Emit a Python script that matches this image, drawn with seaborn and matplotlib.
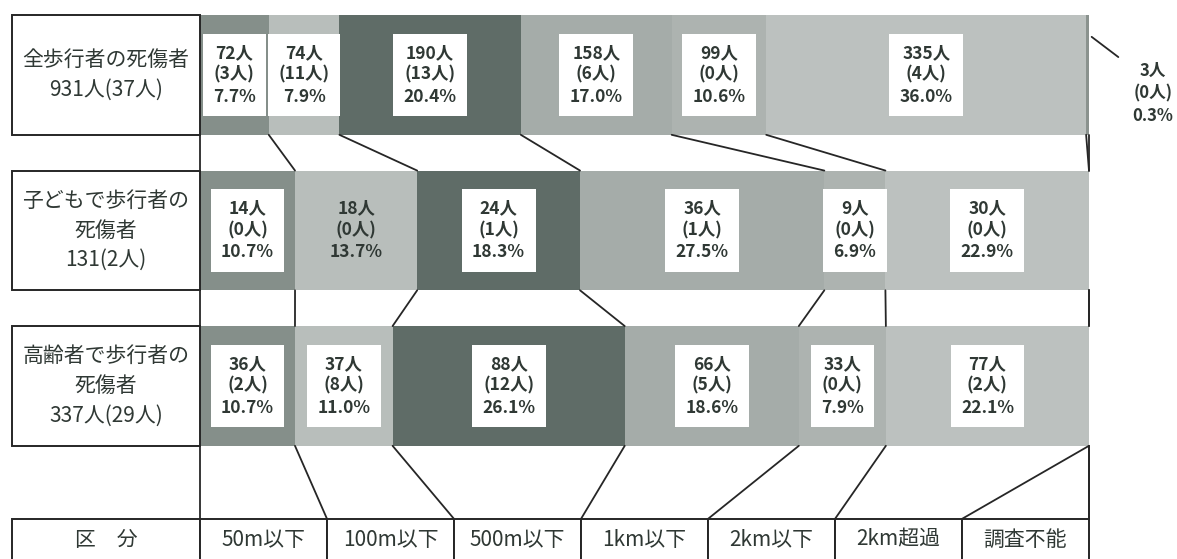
import numpy as np
import pandas as pd
import matplotlib
matplotlib.use("Agg")
import matplotlib.pyplot as plt
from matplotlib.patches import Rectangle
import seaborn as sns

# Distance bands (columns of the table at the bottom)
categories = ["50m以下", "100m以下", "500m以下", "1km以下", "2km以下", "2km超過", "調査不能"]
header_label = "区　分"

group_keys = ["all", "child", "elder"]
group_labels = [
    "全歩行者の死傷者\n931人(37人)",
    "子どもで歩行者の\n死傷者\n131(2人)",
    "高齢者で歩行者の\n死傷者\n337人(29人)",
]

# casualties, deaths (in brackets) and stated share per distance band
all_counts = [72, 74, 190, 158, 99, 335, 3]
all_deaths = [3, 11, 13, 6, 0, 4, 0]
all_pct = [7.7, 7.9, 20.4, 17.0, 10.6, 36.0, 0.3]

child_counts = [14, 18, 24, 36, 9, 30, 0]
child_deaths = [0, 0, 1, 1, 0, 0, 0]
child_pct = [10.7, 13.7, 18.3, 27.5, 6.9, 22.9, 0.0]

elder_counts = [36, 37, 88, 66, 33, 77, 0]
elder_deaths = [2, 8, 12, 5, 0, 2, 0]
elder_pct = [10.7, 11.0, 26.1, 18.6, 7.9, 22.1, 0.0]

band_colors = ["#858f8a", "#b8bebb", "#5f6c67", "#a5aca9", "#adb3b0", "#bcc1bf", "#8a928e"]
text_color = "#2f3834"
line_color = "#262626"

# ---- tidy table -----------------------------------------------------------
records = []
for key, counts, deaths, pct in zip(
    group_keys,
    [all_counts, child_counts, elder_counts],
    [all_deaths, child_deaths, elder_deaths],
    [all_pct, child_pct, elder_pct],
):
    total = sum(counts)
    share = np.array(counts) / total * 100
    ends = np.cumsum(share)
    starts = ends - share
    for k, cat in enumerate(categories):
        records.append(dict(group=key, category=cat, order=k, count=counts[k],
                            deaths=deaths[k], pct=pct[k], share=share[k],
                            start=starts[k], end=ends[k]))
df = pd.DataFrame(records)

# ---- figure ---------------------------------------------------------------
sns.set_theme(style="white")
plt.rcParams["font.family"] = ["Noto Sans CJK JP", "DejaVu Sans"]

fig = plt.figure(figsize=(11.77, 5.59), dpi=100)
ax = fig.add_axes([0, 0, 1, 1])

BAR_H = 0.77
# stacked 100% bars: draw cumulative totals from the last band back to the first
for k in reversed(range(len(categories))):
    sub = df[df["order"] == k]
    sns.barplot(data=sub, x="end", y="group", order=group_keys, orient="h",
                color=band_colors[k], saturation=1, width=BAR_H, errorbar=None,
                edgecolor="none", linewidth=0, ax=ax)

ax.set_xlim(-22.5, 109.9)
ax.set_ylim(3.113, -0.482)
ax.axis("off")

LEFT = -21.15
TABLE_TOP = 2.855

# group label cells on the left
for i, lab in enumerate(group_labels):
    ax.add_patch(Rectangle((LEFT, i - BAR_H / 2), -LEFT, BAR_H, facecolor="white",
                           edgecolor=line_color, linewidth=1.4, zorder=3))
    ax.text(LEFT / 2, i, lab, ha="center", va="center", fontsize=15,
            color=text_color, linespacing=1.45, zorder=4)

# value labels inside the segments
no_box = {("child", "100m以下")}
for _, r in df.iterrows():
    if r["count"] == 0:
        continue
    i = group_keys.index(r["group"])
    txt = f"{r['count']}人\n({r['deaths']}人)\n{r['pct']:.1f}%"
    if r["share"] < 2:
        # narrow segment: label outside to the right with a leader line
        top = i - BAR_H / 2
        ax.plot([r["end"] + 0.3, r["end"] + 3.3], [top + 0.14, top + 0.27],
                color=line_color, lw=1.3, zorder=3)
        ax.text(r["end"] + 7.2, i + 0.12, txt, ha="center", va="center",
                fontsize=12, fontweight="bold", color=text_color,
                linespacing=1.3, zorder=4)
        continue
    box = None if (r["group"], r["category"]) in no_box else dict(
        boxstyle="square,pad=0.6", facecolor="white", edgecolor="none")
    ax.text((r["start"] + r["end"]) / 2, i, txt, ha="center", va="center",
            fontsize=12.5, fontweight="bold", color=text_color, linespacing=1.28,
            bbox=box, zorder=4)

# connector lines between band boundaries of neighbouring rows
bounds = []
for key in group_keys:
    sub = df[df["group"] == key].sort_values("order")
    bounds.append(np.concatenate([[0.0], sub["end"].to_numpy()]))
for i in range(len(group_keys) - 1):
    for a, b in zip(bounds[i], bounds[i + 1]):
        ax.plot([a, b], [i + BAR_H / 2, i + 1 - BAR_H / 2], color=line_color,
                lw=1.3, zorder=3)

n = len(categories)
col_w = 100 / n
col_edges = np.arange(n + 1) * col_w
last = len(group_keys) - 1
for a, b in zip(bounds[last], col_edges):
    ax.plot([a, b], [last + BAR_H / 2, TABLE_TOP], color=line_color, lw=1.3, zorder=3)
# right-hand frame line down to the table
ax.plot([100, 100], [last + BAR_H / 2, TABLE_TOP], color=line_color, lw=1.3, zorder=3)

# table row with the distance bands
TABLE_H = 0.6
ax.add_patch(Rectangle((LEFT, TABLE_TOP), -LEFT, TABLE_H, facecolor="white",
                       edgecolor=line_color, linewidth=1.4, zorder=3))
ax.text(LEFT / 2, 2.99, header_label, ha="center", va="center", fontsize=15,
        color=text_color, zorder=4)
for j, cat in enumerate(categories):
    ax.add_patch(Rectangle((col_edges[j], TABLE_TOP), col_w, TABLE_H,
                           facecolor="white", edgecolor=line_color, linewidth=1.4,
                           zorder=3))
    ax.text(col_edges[j] + col_w / 2, 2.99, cat, ha="center", va="center",
            fontsize=15, color=text_color, zorder=4)

fig.savefig("out.png", dpi=100, facecolor="white")
